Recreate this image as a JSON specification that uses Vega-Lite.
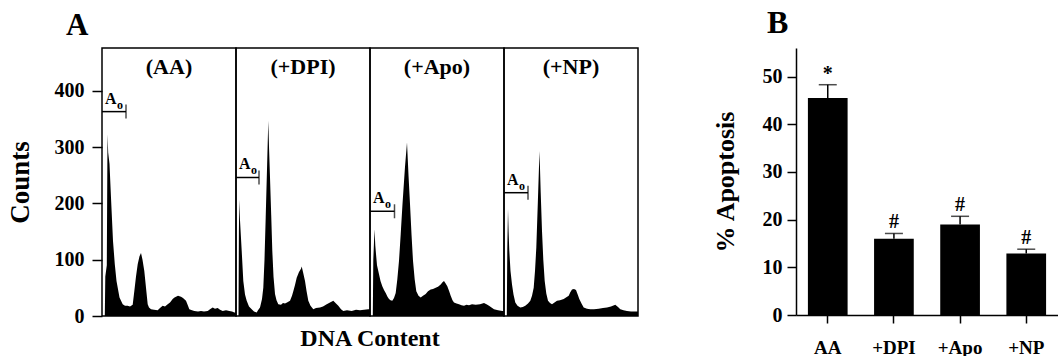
{
  "$schema": "https://vega.github.io/schema/vega-lite/v6.json",
  "padding": {"left": 6, "top": 7, "right": 0, "bottom": 0},
  "background": "white",
  "config": {
    "font": "Liberation Serif",
    "view": {"stroke": "black", "strokeWidth": 1.5},
    "axis": {"labelFont": "Liberation Serif", "titleFont": "Liberation Serif", "labelFontWeight": "bold", "titleFontWeight": "bold", "labelColor": "black", "titleColor": "black", "tickColor": "black", "domainColor": "black", "grid": false},
    "title": {"font": "Liberation Serif", "fontWeight": "bold", "color": "black"}
  },
  "datasets": {
    "hist": [
      {"panel": "AA", "kind": "h", "ch": 0, "count": 0}, {"panel": "AA", "kind": "h", "ch": 2.8, "count": 0}, {"panel": "AA", "kind": "h", "ch": 3.3, "count": 70}, {"panel": "AA", "kind": "h", "ch": 4.8, "count": 90}, {"panel": "AA", "kind": "h", "ch": 5.5, "count": 323}, {"panel": "AA", "kind": "h", "ch": 6.2, "count": 290}, {"panel": "AA", "kind": "h", "ch": 7.5, "count": 270}, {"panel": "AA", "kind": "h", "ch": 9, "count": 210}, {"panel": "AA", "kind": "h", "ch": 11, "count": 133}, {"panel": "AA", "kind": "h", "ch": 12.8, "count": 92}, {"panel": "AA", "kind": "h", "ch": 14.5, "count": 62}, {"panel": "AA", "kind": "h", "ch": 17.5, "count": 33}, {"panel": "AA", "kind": "h", "ch": 20.7, "count": 21}, {"panel": "AA", "kind": "h", "ch": 23, "count": 18}, {"panel": "AA", "kind": "h", "ch": 25.7, "count": 18}, {"panel": "AA", "kind": "h", "ch": 28, "count": 17}, {"panel": "AA", "kind": "h", "ch": 30.7, "count": 20}, {"panel": "AA", "kind": "h", "ch": 32.3, "count": 44}, {"panel": "AA", "kind": "h", "ch": 34, "count": 70}, {"panel": "AA", "kind": "h", "ch": 35.7, "count": 92}, {"panel": "AA", "kind": "h", "ch": 37.5, "count": 106}, {"panel": "AA", "kind": "h", "ch": 39, "count": 112}, {"panel": "AA", "kind": "h", "ch": 40.5, "count": 100}, {"panel": "AA", "kind": "h", "ch": 42.3, "count": 80}, {"panel": "AA", "kind": "h", "ch": 44, "count": 50}, {"panel": "AA", "kind": "h", "ch": 45.7, "count": 21}, {"panel": "AA", "kind": "h", "ch": 47, "count": 15}, {"panel": "AA", "kind": "h", "ch": 49, "count": 12}, {"panel": "AA", "kind": "h", "ch": 52, "count": 11}, {"panel": "AA", "kind": "h", "ch": 55.7, "count": 10}, {"panel": "AA", "kind": "h", "ch": 58, "count": 14}, {"panel": "AA", "kind": "h", "ch": 60.7, "count": 18}, {"panel": "AA", "kind": "h", "ch": 63, "count": 17}, {"panel": "AA", "kind": "h", "ch": 65.7, "count": 21}, {"panel": "AA", "kind": "h", "ch": 68, "count": 24}, {"panel": "AA", "kind": "h", "ch": 70.7, "count": 30}, {"panel": "AA", "kind": "h", "ch": 72.5, "count": 33}, {"panel": "AA", "kind": "h", "ch": 74, "count": 34}, {"panel": "AA", "kind": "h", "ch": 76, "count": 36}, {"panel": "AA", "kind": "h", "ch": 79, "count": 34}, {"panel": "AA", "kind": "h", "ch": 81, "count": 32}, {"panel": "AA", "kind": "h", "ch": 84, "count": 27}, {"panel": "AA", "kind": "h", "ch": 86, "count": 18}, {"panel": "AA", "kind": "h", "ch": 87.3, "count": 12}, {"panel": "AA", "kind": "h", "ch": 90, "count": 10}, {"panel": "AA", "kind": "h", "ch": 92.3, "count": 9}, {"panel": "AA", "kind": "h", "ch": 96, "count": 8}, {"panel": "AA", "kind": "h", "ch": 99, "count": 9}, {"panel": "AA", "kind": "h", "ch": 102, "count": 8}, {"panel": "AA", "kind": "h", "ch": 105.7, "count": 9}, {"panel": "AA", "kind": "h", "ch": 108, "count": 12}, {"panel": "AA", "kind": "h", "ch": 110.7, "count": 15}, {"panel": "AA", "kind": "h", "ch": 113, "count": 13}, {"panel": "AA", "kind": "h", "ch": 115.7, "count": 14}, {"panel": "AA", "kind": "h", "ch": 118, "count": 11}, {"panel": "AA", "kind": "h", "ch": 120.7, "count": 9}, {"panel": "AA", "kind": "h", "ch": 124, "count": 10}, {"panel": "AA", "kind": "h", "ch": 127.3, "count": 9}, {"panel": "AA", "kind": "h", "ch": 130, "count": 8}, {"panel": "AA", "kind": "h", "ch": 132.3, "count": 6}, {"panel": "AA", "kind": "h", "ch": 134, "count": 6},

      {"panel": "+DPI", "kind": "h", "ch": 0, "count": 0}, {"panel": "+DPI", "kind": "h", "ch": 2.5, "count": 0}, {"panel": "+DPI", "kind": "h", "ch": 2.9, "count": 150}, {"panel": "+DPI", "kind": "h", "ch": 3.3, "count": 207}, {"panel": "+DPI", "kind": "h", "ch": 4, "count": 170}, {"panel": "+DPI", "kind": "h", "ch": 5.7, "count": 116}, {"panel": "+DPI", "kind": "h", "ch": 7.3, "count": 62}, {"panel": "+DPI", "kind": "h", "ch": 9, "count": 38}, {"panel": "+DPI", "kind": "h", "ch": 10.7, "count": 27}, {"panel": "+DPI", "kind": "h", "ch": 13, "count": 17}, {"panel": "+DPI", "kind": "h", "ch": 15.7, "count": 12}, {"panel": "+DPI", "kind": "h", "ch": 18, "count": 8}, {"panel": "+DPI", "kind": "h", "ch": 20.7, "count": 6}, {"panel": "+DPI", "kind": "h", "ch": 22, "count": 10}, {"panel": "+DPI", "kind": "h", "ch": 24, "count": 15}, {"panel": "+DPI", "kind": "h", "ch": 26, "count": 30}, {"panel": "+DPI", "kind": "h", "ch": 27.3, "count": 50}, {"panel": "+DPI", "kind": "h", "ch": 28.5, "count": 100}, {"panel": "+DPI", "kind": "h", "ch": 29.7, "count": 175}, {"panel": "+DPI", "kind": "h", "ch": 31, "count": 260}, {"panel": "+DPI", "kind": "h", "ch": 32.3, "count": 347}, {"panel": "+DPI", "kind": "h", "ch": 33, "count": 300}, {"panel": "+DPI", "kind": "h", "ch": 34, "count": 246}, {"panel": "+DPI", "kind": "h", "ch": 35.2, "count": 180}, {"panel": "+DPI", "kind": "h", "ch": 36.3, "count": 116}, {"panel": "+DPI", "kind": "h", "ch": 37.5, "count": 70}, {"panel": "+DPI", "kind": "h", "ch": 39, "count": 39}, {"panel": "+DPI", "kind": "h", "ch": 40.5, "count": 28}, {"panel": "+DPI", "kind": "h", "ch": 42.3, "count": 21}, {"panel": "+DPI", "kind": "h", "ch": 45, "count": 20}, {"panel": "+DPI", "kind": "h", "ch": 47, "count": 23}, {"panel": "+DPI", "kind": "h", "ch": 49, "count": 22}, {"panel": "+DPI", "kind": "h", "ch": 51, "count": 24}, {"panel": "+DPI", "kind": "h", "ch": 54, "count": 27}, {"panel": "+DPI", "kind": "h", "ch": 56, "count": 36}, {"panel": "+DPI", "kind": "h", "ch": 57.3, "count": 44}, {"panel": "+DPI", "kind": "h", "ch": 59, "count": 55}, {"panel": "+DPI", "kind": "h", "ch": 60.7, "count": 68}, {"panel": "+DPI", "kind": "h", "ch": 63, "count": 78}, {"panel": "+DPI", "kind": "h", "ch": 65, "count": 84}, {"panel": "+DPI", "kind": "h", "ch": 65.7, "count": 88}, {"panel": "+DPI", "kind": "h", "ch": 67, "count": 78}, {"panel": "+DPI", "kind": "h", "ch": 69, "count": 62}, {"panel": "+DPI", "kind": "h", "ch": 70.5, "count": 45}, {"panel": "+DPI", "kind": "h", "ch": 72.3, "count": 27}, {"panel": "+DPI", "kind": "h", "ch": 74.5, "count": 18}, {"panel": "+DPI", "kind": "h", "ch": 77.3, "count": 12}, {"panel": "+DPI", "kind": "h", "ch": 80, "count": 14}, {"panel": "+DPI", "kind": "h", "ch": 84, "count": 15}, {"panel": "+DPI", "kind": "h", "ch": 87, "count": 17}, {"panel": "+DPI", "kind": "h", "ch": 90.7, "count": 21}, {"panel": "+DPI", "kind": "h", "ch": 94, "count": 24}, {"panel": "+DPI", "kind": "h", "ch": 97.3, "count": 27}, {"panel": "+DPI", "kind": "h", "ch": 100, "count": 22}, {"panel": "+DPI", "kind": "h", "ch": 102.3, "count": 18}, {"panel": "+DPI", "kind": "h", "ch": 105, "count": 12}, {"panel": "+DPI", "kind": "h", "ch": 107.3, "count": 9}, {"panel": "+DPI", "kind": "h", "ch": 111, "count": 10}, {"panel": "+DPI", "kind": "h", "ch": 115.7, "count": 9}, {"panel": "+DPI", "kind": "h", "ch": 120, "count": 11}, {"panel": "+DPI", "kind": "h", "ch": 124, "count": 10}, {"panel": "+DPI", "kind": "h", "ch": 128, "count": 11}, {"panel": "+DPI", "kind": "h", "ch": 132.3, "count": 12}, {"panel": "+DPI", "kind": "h", "ch": 134, "count": 12},

      {"panel": "+Apo", "kind": "h", "ch": 0, "count": 0}, {"panel": "+Apo", "kind": "h", "ch": 2.8, "count": 0}, {"panel": "+Apo", "kind": "h", "ch": 3.3, "count": 100}, {"panel": "+Apo", "kind": "h", "ch": 4.5, "count": 154}, {"panel": "+Apo", "kind": "h", "ch": 5.3, "count": 125}, {"panel": "+Apo", "kind": "h", "ch": 6, "count": 110}, {"panel": "+Apo", "kind": "h", "ch": 7, "count": 90}, {"panel": "+Apo", "kind": "h", "ch": 9, "count": 74}, {"panel": "+Apo", "kind": "h", "ch": 10.5, "count": 62}, {"panel": "+Apo", "kind": "h", "ch": 12.3, "count": 53}, {"panel": "+Apo", "kind": "h", "ch": 14, "count": 46}, {"panel": "+Apo", "kind": "h", "ch": 15.7, "count": 41}, {"panel": "+Apo", "kind": "h", "ch": 17.5, "count": 34}, {"panel": "+Apo", "kind": "h", "ch": 19, "count": 30}, {"panel": "+Apo", "kind": "h", "ch": 20.5, "count": 28}, {"panel": "+Apo", "kind": "h", "ch": 22.3, "count": 27}, {"panel": "+Apo", "kind": "h", "ch": 24, "count": 32}, {"panel": "+Apo", "kind": "h", "ch": 25.7, "count": 41}, {"panel": "+Apo", "kind": "h", "ch": 27.3, "count": 65}, {"panel": "+Apo", "kind": "h", "ch": 29, "count": 98}, {"panel": "+Apo", "kind": "h", "ch": 30.7, "count": 145}, {"panel": "+Apo", "kind": "h", "ch": 32.5, "count": 199}, {"panel": "+Apo", "kind": "h", "ch": 35, "count": 265}, {"panel": "+Apo", "kind": "h", "ch": 37, "count": 308}, {"panel": "+Apo", "kind": "h", "ch": 38.5, "count": 250}, {"panel": "+Apo", "kind": "h", "ch": 40, "count": 199}, {"panel": "+Apo", "kind": "h", "ch": 41.5, "count": 145}, {"panel": "+Apo", "kind": "h", "ch": 43, "count": 98}, {"panel": "+Apo", "kind": "h", "ch": 44.7, "count": 65}, {"panel": "+Apo", "kind": "h", "ch": 46.3, "count": 44}, {"panel": "+Apo", "kind": "h", "ch": 48.5, "count": 36}, {"panel": "+Apo", "kind": "h", "ch": 50.7, "count": 33}, {"panel": "+Apo", "kind": "h", "ch": 53, "count": 36}, {"panel": "+Apo", "kind": "h", "ch": 55.7, "count": 39}, {"panel": "+Apo", "kind": "h", "ch": 58, "count": 44}, {"panel": "+Apo", "kind": "h", "ch": 60.7, "count": 47}, {"panel": "+Apo", "kind": "h", "ch": 63, "count": 48}, {"panel": "+Apo", "kind": "h", "ch": 65.7, "count": 50}, {"panel": "+Apo", "kind": "h", "ch": 68, "count": 52}, {"panel": "+Apo", "kind": "h", "ch": 70.7, "count": 56}, {"panel": "+Apo", "kind": "h", "ch": 72.5, "count": 60}, {"panel": "+Apo", "kind": "h", "ch": 74, "count": 62}, {"panel": "+Apo", "kind": "h", "ch": 75.5, "count": 58}, {"panel": "+Apo", "kind": "h", "ch": 77.3, "count": 53}, {"panel": "+Apo", "kind": "h", "ch": 79, "count": 45}, {"panel": "+Apo", "kind": "h", "ch": 80.7, "count": 36}, {"panel": "+Apo", "kind": "h", "ch": 82.5, "count": 28}, {"panel": "+Apo", "kind": "h", "ch": 84, "count": 24}, {"panel": "+Apo", "kind": "h", "ch": 86.5, "count": 22}, {"panel": "+Apo", "kind": "h", "ch": 89, "count": 21}, {"panel": "+Apo", "kind": "h", "ch": 91.5, "count": 19}, {"panel": "+Apo", "kind": "h", "ch": 94, "count": 18}, {"panel": "+Apo", "kind": "h", "ch": 96.5, "count": 20}, {"panel": "+Apo", "kind": "h", "ch": 99, "count": 19}, {"panel": "+Apo", "kind": "h", "ch": 102, "count": 21}, {"panel": "+Apo", "kind": "h", "ch": 105.7, "count": 20}, {"panel": "+Apo", "kind": "h", "ch": 110, "count": 21}, {"panel": "+Apo", "kind": "h", "ch": 114, "count": 23}, {"panel": "+Apo", "kind": "h", "ch": 116.5, "count": 21}, {"panel": "+Apo", "kind": "h", "ch": 119, "count": 18}, {"panel": "+Apo", "kind": "h", "ch": 121.5, "count": 15}, {"panel": "+Apo", "kind": "h", "ch": 124, "count": 12}, {"panel": "+Apo", "kind": "h", "ch": 128, "count": 10}, {"panel": "+Apo", "kind": "h", "ch": 132.3, "count": 9}, {"panel": "+Apo", "kind": "h", "ch": 134, "count": 9},

      {"panel": "+NP", "kind": "h", "ch": 0, "count": 0}, {"panel": "+NP", "kind": "h", "ch": 2.8, "count": 0}, {"panel": "+NP", "kind": "h", "ch": 3.3, "count": 120}, {"panel": "+NP", "kind": "h", "ch": 4, "count": 190}, {"panel": "+NP", "kind": "h", "ch": 4.6, "count": 150}, {"panel": "+NP", "kind": "h", "ch": 5.3, "count": 116}, {"panel": "+NP", "kind": "h", "ch": 6.5, "count": 80}, {"panel": "+NP", "kind": "h", "ch": 8, "count": 56}, {"panel": "+NP", "kind": "h", "ch": 9.5, "count": 38}, {"panel": "+NP", "kind": "h", "ch": 11.3, "count": 24}, {"panel": "+NP", "kind": "h", "ch": 13.5, "count": 18}, {"panel": "+NP", "kind": "h", "ch": 16.3, "count": 15}, {"panel": "+NP", "kind": "h", "ch": 18.8, "count": 16}, {"panel": "+NP", "kind": "h", "ch": 21.3, "count": 18}, {"panel": "+NP", "kind": "h", "ch": 24, "count": 22}, {"panel": "+NP", "kind": "h", "ch": 26.3, "count": 27}, {"panel": "+NP", "kind": "h", "ch": 28, "count": 36}, {"panel": "+NP", "kind": "h", "ch": 29.7, "count": 50}, {"panel": "+NP", "kind": "h", "ch": 31, "count": 80}, {"panel": "+NP", "kind": "h", "ch": 32.3, "count": 121}, {"panel": "+NP", "kind": "h", "ch": 33.8, "count": 200}, {"panel": "+NP", "kind": "h", "ch": 35.5, "count": 293}, {"panel": "+NP", "kind": "h", "ch": 36.7, "count": 220}, {"panel": "+NP", "kind": "h", "ch": 38, "count": 151}, {"panel": "+NP", "kind": "h", "ch": 39.3, "count": 100}, {"panel": "+NP", "kind": "h", "ch": 40.7, "count": 62}, {"panel": "+NP", "kind": "h", "ch": 42.3, "count": 40}, {"panel": "+NP", "kind": "h", "ch": 44, "count": 27}, {"panel": "+NP", "kind": "h", "ch": 46, "count": 23}, {"panel": "+NP", "kind": "h", "ch": 48, "count": 21}, {"panel": "+NP", "kind": "h", "ch": 50.5, "count": 24}, {"panel": "+NP", "kind": "h", "ch": 53, "count": 27}, {"panel": "+NP", "kind": "h", "ch": 56, "count": 28}, {"panel": "+NP", "kind": "h", "ch": 59.7, "count": 30}, {"panel": "+NP", "kind": "h", "ch": 62, "count": 33}, {"panel": "+NP", "kind": "h", "ch": 64.7, "count": 36}, {"panel": "+NP", "kind": "h", "ch": 66.3, "count": 42}, {"panel": "+NP", "kind": "h", "ch": 68, "count": 47}, {"panel": "+NP", "kind": "h", "ch": 70, "count": 48}, {"panel": "+NP", "kind": "h", "ch": 72, "count": 46}, {"panel": "+NP", "kind": "h", "ch": 73.7, "count": 38}, {"panel": "+NP", "kind": "h", "ch": 75.3, "count": 30}, {"panel": "+NP", "kind": "h", "ch": 77.5, "count": 22}, {"panel": "+NP", "kind": "h", "ch": 79.7, "count": 15}, {"panel": "+NP", "kind": "h", "ch": 83, "count": 13}, {"panel": "+NP", "kind": "h", "ch": 86.3, "count": 12}, {"panel": "+NP", "kind": "h", "ch": 90, "count": 12}, {"panel": "+NP", "kind": "h", "ch": 94.7, "count": 13}, {"panel": "+NP", "kind": "h", "ch": 99, "count": 14}, {"panel": "+NP", "kind": "h", "ch": 103, "count": 15}, {"panel": "+NP", "kind": "h", "ch": 107, "count": 17}, {"panel": "+NP", "kind": "h", "ch": 111.3, "count": 20}, {"panel": "+NP", "kind": "h", "ch": 114, "count": 16}, {"panel": "+NP", "kind": "h", "ch": 116.3, "count": 12}, {"panel": "+NP", "kind": "h", "ch": 119.5, "count": 10}, {"panel": "+NP", "kind": "h", "ch": 123, "count": 9}, {"panel": "+NP", "kind": "h", "ch": 127, "count": 8}, {"panel": "+NP", "kind": "h", "ch": 131.3, "count": 8}, {"panel": "+NP", "kind": "h", "ch": 134, "count": 8},

      {"panel": "AA", "kind": "g", "g0": 0, "g1": 24, "count": 363, "label": "(AA)"},
      {"panel": "+DPI", "kind": "g", "g0": 0, "g1": 23, "count": 246, "label": "(+DPI)"},
      {"panel": "+Apo", "kind": "g", "g0": 0, "g1": 24.5, "count": 186, "label": "(+Apo)"},
      {"panel": "+NP", "kind": "g", "g0": 0, "g1": 24, "count": 219, "label": "(+NP)"}
    ],
    "bars": [
      {"group": "AA", "pct": 45.5, "upper": 48.3, "sig": "*"},
      {"group": "+DPI", "pct": 16.0, "upper": 17.1, "sig": "#"},
      {"group": "+Apo", "pct": 19.0, "upper": 20.7, "sig": "#"},
      {"group": "+NP", "pct": 12.9, "upper": 13.8, "sig": "#"}
    ]
  },
  "hconcat": [
    {
      "data": {"name": "hist"},
      "title": {"text": "A", "anchor": "start", "frame": "group", "fontSize": 31, "dx": -36, "dy": 3, "offset": 8},
      "bounds": "flush",
      "facet": {
        "column": {
          "field": "panel",
          "type": "nominal",
          "sort": ["AA", "+DPI", "+Apo", "+NP"],
          "header": {"title": "DNA Content", "titleOrient": "bottom", "titleFont": "Liberation Serif", "titleFontSize": 24, "titleFontWeight": "bold", "titleColor": "black", "titlePadding": 1, "labels": false}
        }
      },
      "spacing": {"column": 0, "row": 0},
      "spec": {
        "width": 134,
        "height": 268,
        "encoding": {
          "y": {"field": "count", "type": "quantitative", "scale": {"domain": [0, 476], "nice": false}, "axis": {"title": "Counts", "values": [0, 100, 200, 300, 400], "domain": false, "tickSize": 10, "tickWidth": 1.5, "labelFontSize": 20, "labelPadding": 8, "titleFontSize": 27, "titlePadding": 20}}
        },
        "layer": [
          {
            "transform": [{"filter": "datum.kind == 'h'"}],
            "mark": {"type": "area", "color": "black", "interpolate": "linear"},
            "encoding": {"x": {"field": "ch", "type": "quantitative", "scale": {"domain": [0, 134], "nice": false}, "axis": null}}
          },
          {
            "transform": [{"filter": "datum.kind == 'g'"}],
            "mark": {"type": "rule", "color": "black", "strokeWidth": 1.5},
            "encoding": {"x": {"field": "g0", "type": "quantitative", "axis": null}, "x2": {"field": "g1"}}
          },
          {
            "transform": [{"filter": "datum.kind == 'g'"}],
            "mark": {"type": "tick", "orient": "vertical", "color": "black", "size": 14, "thickness": 1.5},
            "encoding": {"x": {"field": "g1", "type": "quantitative", "axis": null}}
          },
          {
            "transform": [{"filter": "datum.kind == 'g'"}],
            "mark": {"type": "text", "text": "A", "fontSize": 16, "fontWeight": "bold", "align": "left", "baseline": "alphabetic", "dx": 3, "dy": -8, "color": "black"},
            "encoding": {"x": {"field": "g0", "type": "quantitative", "axis": null}}
          },
          {
            "transform": [{"filter": "datum.kind == 'g'"}],
            "mark": {"type": "text", "text": "o", "fontSize": 12, "fontWeight": "bold", "align": "left", "baseline": "alphabetic", "dx": 15, "dy": -3, "color": "black"},
            "encoding": {"x": {"field": "g0", "type": "quantitative", "axis": null}}
          },
          {
            "transform": [{"filter": "datum.kind == 'g'"}],
            "mark": {"type": "text", "fontSize": 22, "fontWeight": "bold", "align": "center", "baseline": "alphabetic", "color": "black"},
            "encoding": {"x": {"datum": 67, "type": "quantitative", "axis": null}, "y": {"datum": 430, "type": "quantitative"}, "text": {"field": "label"}}
          }
        ]
      }
    },
    {
      "data": {"name": "bars"},
      "title": {"text": "B", "anchor": "start", "frame": "group", "fontSize": 32, "dx": -29, "offset": 8},
      "width": 262,
      "height": 267,
      "view": {"stroke": null},
      "encoding": {
        "x": {"field": "group", "type": "nominal", "sort": ["AA", "+DPI", "+Apo", "+NP"], "scale": {"paddingInner": 0.4, "paddingOuter": 0.18}, "axis": {"title": null, "labelAngle": 0, "labelFontSize": 19, "labelPadding": 15, "tickSize": 8, "tickWidth": 1.5, "domainWidth": 1.5}}
      },
      "layer": [
        {
          "mark": {"type": "bar", "color": "black"},
          "encoding": {"y": {"field": "pct", "type": "quantitative", "scale": {"domain": [0, 56], "nice": false}, "axis": {"title": "% Apoptosis", "values": [0, 10, 20, 30, 40, 50], "tickSize": 9, "tickWidth": 1.5, "domainWidth": 1.5, "labelFontSize": 20, "labelPadding": 5, "titleFontSize": 26, "titlePadding": 24}}}
        },
        {
          "mark": {"type": "rule", "color": "black", "strokeWidth": 1.5},
          "encoding": {"y": {"field": "pct", "type": "quantitative"}, "y2": {"field": "upper"}}
        },
        {
          "mark": {"type": "tick", "orient": "horizontal", "color": "black", "size": 18, "thickness": 1.5},
          "encoding": {"y": {"field": "upper", "type": "quantitative"}}
        },
        {
          "mark": {"type": "text", "fontSize": 20, "fontWeight": "bold", "baseline": "alphabetic", "dy": -5, "color": "black"},
          "encoding": {"y": {"field": "upper", "type": "quantitative"}, "text": {"field": "sig"}}
        }
      ]
    }
  ],
  "spacing": 73
}
